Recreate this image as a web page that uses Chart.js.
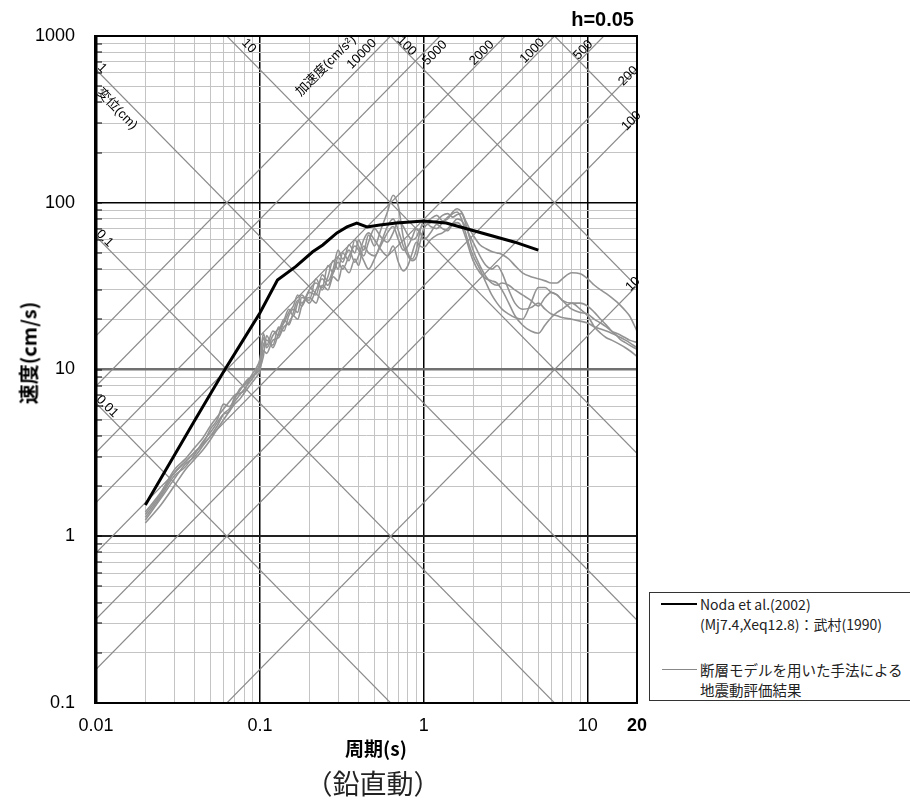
<!DOCTYPE html>
<html><head><meta charset="utf-8">
<script src="https://cdn.jsdelivr.net/npm/chart.js@4.4.1/dist/chart.umd.min.js"></script>
<style>
html,body{margin:0;padding:0;background:#fff;}
#wrap{position:relative;width:910px;height:801px;overflow:hidden;}
#c{position:absolute;left:0;top:0;}
.t{position:absolute;white-space:nowrap;color:#000;line-height:1;}
#legend{position:absolute;left:649px;top:592px;width:270px;height:109px;border:1px solid #333;box-sizing:border-box;background:#fff;}
.ln{position:absolute;height:0;}
</style></head><body>
<div id="wrap">
<canvas id="c" width="910" height="801"></canvas>
<div class="t" style="left:634px;top:19px;transform:translate(-100%,-50%);font:bold 20px 'Liberation Sans',Arial,sans-serif;">h=0.05</div>
<div class="t" style="left:28px;top:353px;transform:translate(-50%,-50%) rotate(-90deg);font:bold 20px 'Noto Sans CJK JP',sans-serif;">速度(cm/s)</div>
<div class="t" style="left:376px;top:747px;transform:translate(-50%,-50%);font:bold 19px 'Noto Sans CJK JP',sans-serif;">周期(s)</div>
<div class="t" style="left:373px;top:782px;transform:translate(-50%,-50%);font:27px 'Noto Sans CJK JP',sans-serif;color:#222;">（鉛直動）</div>
<div id="legend"></div>
<div class="ln" style="left:661px;top:603px;width:36px;border-top:2.5px solid #000;"></div>
<div class="t" style="left:700px;top:604px;transform:translateY(-50%);font:14px 'Noto Sans CJK JP',sans-serif;color:#222;">Noda et al.(2002)</div>
<div class="t" style="left:700px;top:624px;transform:translateY(-50%);font:14px 'Noto Sans CJK JP',sans-serif;color:#222;">(Mj7.4,Xeq12.8)：武村(1990)</div>
<div class="ln" style="left:662px;top:669px;width:35px;border-top:1px solid #888;"></div>
<div class="t" style="left:700px;top:669px;transform:translateY(-50%);font:14.5px 'Noto Sans CJK JP',sans-serif;color:#222;">断層モデルを用いた手法による</div>
<div class="t" style="left:700px;top:689px;transform:translateY(-50%);font:14.5px 'Noto Sans CJK JP',sans-serif;color:#222;">地震動評価結果</div>
</div>
<script>
// ---------- data ----------
const X_TICKS = [0.01, 0.1, 1, 10, 20];
const X_TICK_TEXT = ['0.01', '0.1', '1', '10', '20'];
const Y_TICKS = [0.1, 1, 10, 100, 1000];
const Y_TICK_TEXT = ['0.1', '1', '10', '100', '1000'];

const DISP_LINES = [0.01, 0.1, 1, 10, 100, 1000];            // cm
const ACC_LINES = [10, 100, 200, 500, 1000, 2000, 5000, 10000]; // cm/s2

const DIAG_LABELS = [
  {text:'1', t:0.0109, v:643, dir:'d'},
  {text:'変位(cm)', t:0.0134, v:365, dir:'d'},
  {text:'0.1', t:0.0113, v:61, dir:'d'},
  {text:'0.01', t:0.0117, v:6.0, dir:'d'},
  {text:'10', t:0.0856, v:871, dir:'d'},
  {text:'100', t:0.786, v:871, dir:'d'},
  {text:'加速度(cm/s²)', t:0.253, v:661, dir:'a'},
  {text:'10000', t:0.419, v:780, dir:'a'},
  {text:'5000', t:1.17, v:791, dir:'a'},
  {text:'2000', t:2.26, v:791, dir:'a'},
  {text:'1000', t:4.6, v:813, dir:'a'},
  {text:'500', t:9.4, v:824, dir:'a'},
  {text:'200', t:17.7, v:575, dir:'a'},
  {text:'100', t:18.5, v:309, dir:'a'},
  {text:'10', t:18.9, v:32.5, dir:'a'}
];

const NODA_T = [0.02,0.04,0.06,0.079,0.1,0.128,0.166,0.21,0.242,0.295,0.34,0.39,0.45,0.54,0.68,1.0,1.37,1.85,3.6,5.0];
const NODA_V = [1.54,4.95,9.7,15,21.8,34.4,41.5,50.8,55.8,65.9,71.6,75.6,71.6,73.6,75.6,77.7,75.6,69.6,58,52];

const PERIODS = [0.02,0.025,0.03,0.035,0.04,0.045,0.05,0.055,0.06,0.065,
 0.07,0.075,0.08,0.085,0.09,0.095,0.1,0.105,0.11,0.12,
 0.13,0.14,0.15,0.16,0.17,0.18,0.2,0.22,0.24,0.26,
 0.28,0.3,0.32,0.35,0.38,0.4,0.43,0.46,0.5,0.55,
 0.6,0.65,0.7,0.75,0.8,0.85,0.9,0.95,1.0,1.1,
 1.2,1.3,1.4,1.5,1.6,1.7,1.8,1.9,2.0,2.2,
 2.4,2.6,2.8,3.0,3.3,3.6,4.0,4.5,5.0,5.5,
 6.0,6.5,7.0,8.0,9.0,10,11,12,13,14,
 15,16,17,18,20];

const FM1 = [1.35,1.8,2.4,2.8,3.2,3.6,4.4,5.0,6.2,6.0,
 6.6,7.6,8.0,8.6,9.4,10.2,11.5,15.5,13.5,16,
 17.5,19,22,24,28,25,30,33,31,42,
 38,47,44,56,50,60,52,64,55,70,
 88,111,95,62,50,46,52,68,78,72,
 70,76,82,86,88,80,66,55,48,40,
 33,28,25,23,21.5,20.5,20,25,31,31,
 29,28,26,25,25,24,22,20,18.5,17,
 16,15,14.5,14,13.2];
const FM2 = [1.25,1.7,2.2,2.7,3.0,3.5,4.0,4.6,5.4,5.8,
 6.4,7.0,7.6,8.2,8.8,9.6,10.5,14,15,14,
 18,17,21,23,22,27,26,35,30,36,
 45,40,50,45,60,55,48,58,70,62,
 58,66,78,72,64,60,62,70,74,80,
 84,78,80,88,92,88,78,70,64,56,
 53,51,50,49,46,42,38,36,35,34,
 33,33,35,38,37.5,35,32,30,28.5,27,
 25.5,24,22.5,21,17];
const FM3 = [1.2,1.55,2.0,2.5,2.9,3.3,3.8,4.4,5.0,5.6,
 6.2,6.6,7.2,7.8,8.4,9.0,9.8,13,12.5,15,
 15.5,18,19,21,20,24,27,25,32,30,
 36,34,42,38,46,42,55,50,48,56,
 66,72,60,52,55,62,70,66,60,66,
 74,70,68,74,76,72,62,52,45,38,
 35,34,33,30,25,21,18.5,17,16.5,18.5,
 20.5,22,23,25,23,21,18,16.5,15.5,15,
 14.5,14,13.5,13,12];
const FM4 = [1.3,1.75,2.3,2.6,3.1,3.7,4.2,4.8,5.4,5.6,
 6.8,7.2,7.4,8.4,9.2,9.4,10.2,12,16,13.5,
 16.5,20,18.5,22,26,24,29,28,37,34,
 40,52,46,52,44,48,60,66,60,52,
 48,55,44,39,42,50,58,55,54,60,
 64,66,70,75,80,78,72,64,58,48,
 42,40,42,38,30,25,23,23.5,25,23,
 21.5,21,20.5,20,19.5,19,18,17.5,17,16.5,
 16,15.5,15,14.5,13.5];
const FM5 = [1.4,1.85,2.5,2.9,3.4,3.9,4.6,5.2,5.8,6.4,
 7.0,7.4,8.2,8.8,9.0,9.8,11,16.5,14,17,
 16,19.5,23,21,25,28,25,30,35,32,
 38,44,40,48,55,52,45,40,46,58,
 72,80,68,55,48,45,47,58,70,76,
 78,84,86,82,85,86,75,62,52,42,
 36,33,32,33,32,30,28,26,24,27,
 29,28,26,23,22,21.5,20,19,18,17,
 16.5,16,15.5,15,14.5];
const FAULT_MODEL = [FM1, FM2, FM3, FM4, FM5];

// ---------- helpers ----------
function gridValues(lo, hi) {
  const out = [];
  for (let e = Math.floor(Math.log10(lo)); e <= Math.ceil(Math.log10(hi)); e++) {
    for (let k = 1; k <= 9; k++) {
      const v = +(k * Math.pow(10, e)).toPrecision(6);
      if (v >= lo * 0.999 && v <= hi * 1.001) out.push(v);
    }
  }
  if (!out.includes(hi)) out.push(hi);
  return out;
}
const X_GRID = gridValues(0.01, 20);
const Y_GRID = gridValues(0.1, 1000);
const isDecade = v => Math.abs(Math.log10(v) - Math.round(Math.log10(v))) < 1e-6;
const LATIN = "'Liberation Sans', Arial, 'Noto Sans CJK JP', sans-serif";

const datasets = [{
  label: 'Noda et al.(2002)',
  data: NODA_T.map((t, i) => ({x: t, y: NODA_V[i]})),
  borderColor: '#000', borderWidth: 3, pointRadius: 0, tension: 0, order: 0
}];
FAULT_MODEL.forEach((s, k) => datasets.push({
  label: '断層モデルを用いた手法による地震動評価結果 ' + (k + 1),
  data: PERIODS.map((t, i) => ({x: t, y: s[i]})),
  borderColor: '#939393', borderWidth: 1.6, pointRadius: 0,
  cubicInterpolationMode: 'monotone', order: 1
}));

const framePlugin = {
  id: 'tripartite',
  beforeDatasetsDraw(chart) {
    const {ctx, chartArea: a, scales: {x, y}} = chart;
    ctx.save();
    ctx.beginPath(); ctx.rect(a.left, a.top, a.right - a.left, a.bottom - a.top); ctx.clip();
    ctx.strokeStyle = '#8a8a8a'; ctx.lineWidth = 1.2;
    const t0 = 0.005, t1 = 40;
    DISP_LINES.forEach(d => {
      ctx.beginPath();
      ctx.moveTo(x.getPixelForValue(t0), y.getPixelForValue(2 * Math.PI * d / t0));
      ctx.lineTo(x.getPixelForValue(t1), y.getPixelForValue(2 * Math.PI * d / t1));
      ctx.stroke();
    });
    ACC_LINES.forEach(A => {
      ctx.beginPath();
      ctx.moveTo(x.getPixelForValue(t0), y.getPixelForValue(A * t0 / (2 * Math.PI)));
      ctx.lineTo(x.getPixelForValue(t1), y.getPixelForValue(A * t1 / (2 * Math.PI)));
      ctx.stroke();
    });
    ctx.restore();
  },
  afterDatasetsDraw(chart) {
    const {ctx, chartArea: a, scales: {x, y}} = chart;
    ctx.save();
    const decW = x.getPixelForValue(10) - x.getPixelForValue(1);
    const decH = y.getPixelForValue(1) - y.getPixelForValue(10);
    const ang = Math.atan2(decH, decW);
    ctx.fillStyle = '#000';
    ctx.font = '13px ' + LATIN;
    ctx.textAlign = 'center'; ctx.textBaseline = 'middle';
    DIAG_LABELS.forEach(L => {
      ctx.save();
      ctx.translate(x.getPixelForValue(L.t), y.getPixelForValue(L.v));
      ctx.rotate(L.dir === 'd' ? ang : -ang);
      ctx.fillText(L.text, 0, 0);
      ctx.restore();
    });
    // inward ticks on left axis
    ctx.fillStyle = '#000';
    Y_GRID.forEach(v => {
      const p = Math.round(y.getPixelForValue(v));
      ctx.fillRect(a.left, p - 0.5, 6, 1);
    });
    // frame
    const w = a.right - a.left, h = a.bottom - a.top;
    ctx.fillRect(a.left - 2, a.top - 1, 3.5, h + 2);
    ctx.fillRect(a.left, a.top - 1, w, 2);
    ctx.fillRect(a.right - 1, a.top - 1, 2, h + 2);
    ctx.fillRect(a.left - 2, a.bottom - 1, w + 3, 2);
    ctx.restore();
  }
};

new Chart(document.getElementById('c'), {
  type: 'line',
  data: {datasets},
  plugins: [framePlugin],
  options: {
    responsive: false, animation: false, devicePixelRatio: 1,
    layout: {padding: {left: 0, top: 36, right: 273, bottom: 0}},
    plugins: {legend: {display: false}, tooltip: {enabled: false}, title: {display: false}},
    scales: {
      x: {
        type: 'logarithmic', min: 0.01, max: 20,
        afterBuildTicks: s => { s.ticks = X_GRID.map(v => ({value: v})); },
        afterFit: s => { s.height = 98; },
        border: {display: false},
        grid: {
          drawTicks: false,
          color: c => isDecade(c.tick.value) ? '#000' : '#c4c4c4',
          lineWidth: c => isDecade(c.tick.value) ? 1.5 : 1
        },
        ticks: {
          autoSkip: false, maxRotation: 0, minRotation: 0, padding: 12, color: '#000',
          font: c => ({family: LATIN, size: 18, weight: (c.tick && c.tick.value === 20) ? 'bold' : 'normal'}),
          callback: v => { const i = X_TICKS.findIndex(q => Math.abs(q - v) < 1e-9); return i >= 0 ? X_TICK_TEXT[i] : ''; }
        }
      },
      y: {
        type: 'logarithmic', min: 0.1, max: 1000,
        afterBuildTicks: s => { s.ticks = Y_GRID.map(v => ({value: v})); },
        afterFit: s => { s.width = 96; },
        border: {display: false},
        grid: {
          drawTicks: false,
          color: c => { const v = c.tick.value; if (Math.abs(v - 10) < 1e-9) return '#707070'; if (Math.abs(v - 1) < 1e-9) return '#222'; return isDecade(v) ? '#000' : '#c4c4c4'; },
          lineWidth: c => { const v = c.tick.value; if (Math.abs(v - 10) < 1e-9) return 2.5; if (Math.abs(v - 1) < 1e-9) return 2; return isDecade(v) ? 1.5 : 1; }
        },
        ticks: {
          autoSkip: false, padding: 21, color: '#000',
          font: {family: LATIN, size: 18},
          callback: v => { const i = Y_TICKS.findIndex(q => Math.abs(q - v) < 1e-9); return i >= 0 ? Y_TICK_TEXT[i] : ''; }
        }
      }
    }
  }
});
</script>
</body></html>
